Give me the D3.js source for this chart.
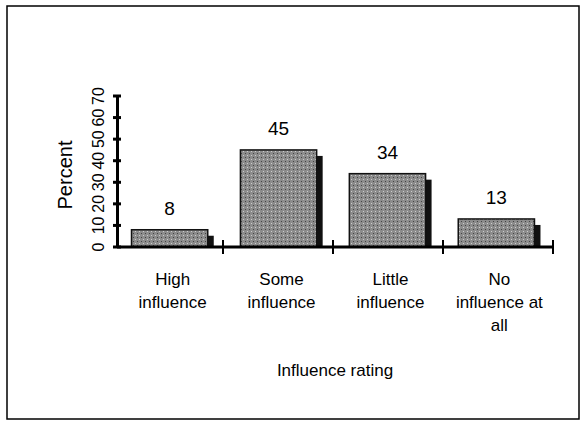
<!DOCTYPE html><html><head><script src="https://cdn.jsdelivr.net/npm/d3@7"></script>
<style>body{margin:0;background:#fff}</style></head><body><svg width="587" height="426"></svg>
<script>
const categories=[["High","influence"],["Some","influence"],["Little","influence"],["No","influence at","all"]];
const values=[8,45,34,13];
const yTicks=[0,10,20,30,40,50,60,70];
const svg=d3.select("svg");
const f="Arial, 'Liberation Sans', sans-serif";
svg.append("rect").attr("x",7).attr("y",6).attr("width",572).attr("height",413).attr("fill","none").attr("stroke","#000").attr("stroke-width",1.5);
const defs=svg.append("defs");
const p=defs.append("pattern").attr("id","st").attr("width",4).attr("height",4).attr("patternUnits","userSpaceOnUse");
p.append("rect").attr("width",4).attr("height",4).attr("fill","#8c8c8c");
p.append("rect").attr("x",1).attr("y",1).attr("width",1).attr("height",1).attr("fill","#444");
p.append("rect").attr("x",3).attr("y",3).attr("width",1).attr("height",1).attr("fill","#ccc");
const x=d3.scaleBand().domain(d3.range(4)).range([113,553]).paddingInner(0.3).paddingOuter(0.17);
const y=d3.scaleLinear().domain([0,70]).range([247,96]);
const g=svg.append("g");
values.forEach((v,i)=>{
 g.append("rect").attr("x",x(i)+6).attr("y",y(v)+6).attr("width",x.bandwidth()).attr("height",y(0)-y(v)-6).attr("fill","#111");
 g.append("rect").attr("x",x(i)).attr("y",y(v)).attr("width",x.bandwidth()).attr("height",y(0)-y(v)).attr("fill","url(#st)").attr("stroke","#111").attr("stroke-width",1.5);
 g.append("text").attr("x",x(i)+x.bandwidth()/2).attr("y",y(v)-15).attr("text-anchor","middle").attr("font-family",f).attr("font-size",19).text(v);
});
const ya=svg.append("g").attr("transform","translate(117,0)").call(d3.axisLeft(y).tickValues(yTicks).tickSize(0).tickFormat(""));
ya.select(".domain").attr("stroke-width",3);
yTicks.forEach(t=>{svg.append("line").attr("x1",113).attr("x2",121).attr("y1",y(t)).attr("y2",y(t)).attr("stroke","#000").attr("stroke-width",3);
 svg.append("text").attr("transform",`translate(104,${y(t)}) rotate(-90)`).attr("text-anchor","middle").attr("font-family",f).attr("font-size",16).text(t);});
svg.append("line").attr("x1",117).attr("x2",553).attr("y1",247).attr("y2",247).attr("stroke","#000").attr("stroke-width",3);
[1,2,3,4].forEach(k=>{const xx=113+k*110;svg.append("line").attr("x1",xx).attr("x2",xx).attr("y1",240).attr("y2",254).attr("stroke","#000").attr("stroke-width",2);});
categories.forEach((c,i)=>{const t=svg.append("text").attr("text-anchor","middle").attr("font-family",f).attr("font-size",17);
 c.forEach((l,j)=>t.append("tspan").attr("x",x(i)+x.bandwidth()/2+3).attr("y",285+j*23).text(l));});
svg.append("text").attr("transform","translate(72,175) rotate(-90)").attr("text-anchor","middle").attr("font-family",f).attr("font-size",20).text("Percent");
svg.append("text").attr("x",335).attr("y",376).attr("text-anchor","middle").attr("font-family",f).attr("font-size",17).text("Influence rating");
</script></body></html>
